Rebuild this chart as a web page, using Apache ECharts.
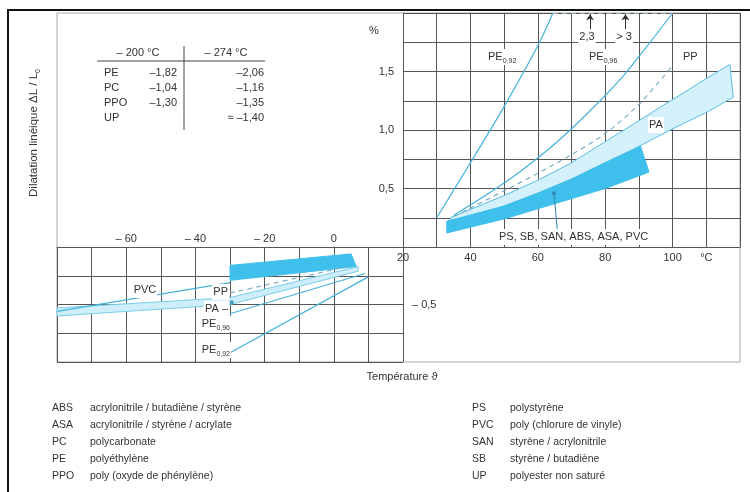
<!DOCTYPE html>
<html>
<head>
<meta charset="utf-8">
<script src="https://cdn.jsdelivr.net/npm/echarts@6/dist/echarts.min.js"></script>
<style>
html, body { margin: 0; padding: 0; background: #fff; }
#main { width: 750px; height: 492px; }
</style>
</head>
<body>
<div id="main"></div>
<script>
// upper part: temperature 20..120 °C, dilatation 0..2 %
var pe092Up = [[30, 0.25], [40, 0.72], [50, 1.2], [60, 1.72], [64.5, 2.0]];
var pe096Up = [[35, 0.27], [45, 0.45], [55, 0.65], [65, 0.88], [75, 1.15], [85, 1.45], [92, 1.7], [100, 2.0]];
var ppUp = [[35, 0.26], [50, 0.48], [60, 0.63], [70, 0.79], [80, 0.97], [90, 1.22], [100, 1.55]];
var paTopUp = [[34, 0.25], [50, 0.44], [60, 0.57], [70, 0.72], [80, 0.9], [90, 1.08], [100, 1.26], [110, 1.44], [117, 1.56]];
var paBottomUp = [[34, 0.2], [50, 0.35], [60, 0.46], [70, 0.58], [80, 0.72], [90, 0.86], [100, 1.01], [110, 1.15], [118, 1.28]];
var psTopUp = [[33, 0.22], [50, 0.35], [60, 0.46], [70, 0.58], [80, 0.72], [90.5, 0.86]];
var psBottomUp = [[33, 0.12], [50, 0.24], [65, 0.37], [80, 0.5], [93, 0.64]];

// lower part: temperature -80..20 °C, dilatation -1..0 %
var pe092Low = [[-30, -0.92], [10, -0.26]];
var pe096Low = [[-30, -0.58], [9, -0.23]];
var ppLow = [[-30, -0.40], [4, -0.17]];
var paTopLow = [[-80, -0.53], [-30, -0.44], [7, -0.17]];
var paBottomLow = [[-80, -0.6], [-30, -0.5], [7, -0.21]];
var pvcLow = [[-80, -0.56], [-30, -0.31]];
var psTopLow = [[-30, -0.16], [5, -0.06]];
var psBottomLow = [[-30, -0.29], [6.5, -0.17]];
var paPointLow = [[-29.5, -0.48]];

// table of values at very low temperatures
var tableHead = ['– 200 °C', '– 274 °C'];
var tableNames = ['PE', 'PC', 'PPO', 'UP'];
var tableAt200 = ['–1,82', '–1,04', '–1,30', ''];
var tableAt274 = ['–2,06', '–1,16', '–1,35', '≈ –1,40'];

// abbreviations
var abbrLeft = ['ABS', 'ASA', 'PC', 'PE', 'PPO'];
var nameLeft = ['acrylonitrile / butadiène / styrène', 'acrylonitrile / styrène / acrylate', 'polycarbonate', 'polyéthylène', 'poly (oxyde de phénylène)'];
var abbrRight = ['PS', 'PVC', 'SAN', 'SB', 'UP'];
var nameRight = ['polystyrène', 'poly (chlorure de vinyle)', 'styrène / acrylonitrile', 'styrène / butadiène', 'polyester non saturé'];

var FONT = '"Liberation Sans", Arial, sans-serif';
var TXT = '#333';
var GRIDC = '#555';
var LINEC = '#44b2da';

var dom = document.getElementById('main');
var myChart = echarts.init(dom);

function band(top, bottom, fill, stroke, gi) {
    return {
        type: 'custom',
        xAxisIndex: gi,
        yAxisIndex: gi,
        silent: true,
        z: 2,
        data: [top[0]],
        renderItem: function (params, api) {
            var pts = top.concat(bottom.slice().reverse()).map(function (p) {
                return api.coord(p);
            });
            return {
                type: 'polygon',
                shape: { points: pts },
                style: { fill: fill, stroke: stroke, lineWidth: 1 }
            };
        }
    };
}

function curve(data, gi, dashed, color) {
    return {
        type: 'line',
        xAxisIndex: gi,
        yAxisIndex: gi,
        data: data,
        symbol: 'none',
        smooth: 0.3,
        silent: true,
        z: 3,
        lineStyle: {
            color: color || LINEC,
            width: 1.2,
            type: dashed ? [5, 4] : 'solid'
        }
    };
}

function marker(gi, lines, style, symbol, size) {
    return {
        type: 'line',
        xAxisIndex: gi,
        yAxisIndex: gi,
        data: [],
        silent: true,
        markLine: {
            silent: true,
            animation: false,
            symbol: symbol,
            symbolSize: size,
            label: { show: false },
            lineStyle: style,
            data: lines
        }
    };
}

function fmtNum(v) {
    return v.toFixed(1).replace('.', ',');
}

var graphics = [
    { type: 'rect', shape: { x: 8, y: 10, width: 770, height: 500 }, style: { fill: 'none', stroke: '#111', lineWidth: 2 } },
    {
        type: 'text', x: 34, y: 133, rotation: Math.PI / 2,
        style: {
            text: '{a|Dilatation linéique ΔL / L}{s|0}',
            align: 'center', verticalAlign: 'middle',
            rich: {
                a: { fontSize: 11.5, fontFamily: FONT, fill: TXT, lineHeight: 16 },
                s: { fontSize: 7, fontFamily: FONT, fill: TXT, lineHeight: 8, verticalAlign: 'bottom' }
            }
        }
    },
    { type: 'text', x: 402, y: 377, style: { text: 'Température ϑ', font: '11px ' + FONT, fill: TXT, align: 'center', verticalAlign: 'middle' } },
    { type: 'text', x: 374, y: 31, style: { text: '%', font: '11px ' + FONT, fill: TXT, align: 'center', verticalAlign: 'middle' } },
    // table frame
    { type: 'line', shape: { x1: 97, y1: 61, x2: 265, y2: 61 }, style: { stroke: '#444', lineWidth: 1 } },
    { type: 'line', shape: { x1: 184, y1: 46, x2: 184, y2: 130 }, style: { stroke: '#444', lineWidth: 1 } },
    { type: 'text', x: 138, y: 53, style: { text: tableHead[0], font: '11px ' + FONT, fill: TXT, align: 'center', verticalAlign: 'middle' } },
    { type: 'text', x: 226, y: 53, style: { text: tableHead[1], font: '11px ' + FONT, fill: TXT, align: 'center', verticalAlign: 'middle' } }
];

tableNames.forEach(function (n, i) {
    var y = 73 + i * 15;
    graphics.push({ type: 'text', x: 104, y: y, style: { text: n, font: '11px ' + FONT, fill: TXT, verticalAlign: 'middle' } });
    graphics.push({ type: 'text', x: 177, y: y, style: { text: tableAt200[i], font: '11px ' + FONT, fill: TXT, align: 'right', verticalAlign: 'middle' } });
    graphics.push({ type: 'text', x: 264, y: y, style: { text: tableAt274[i], font: '11px ' + FONT, fill: TXT, align: 'right', verticalAlign: 'middle' } });
});

abbrLeft.forEach(function (a, i) {
    var y = 408 + i * 17;
    graphics.push({ type: 'text', x: 52, y: y, style: { text: a, font: '10.5px ' + FONT, fill: TXT, verticalAlign: 'middle' } });
    graphics.push({ type: 'text', x: 90, y: y, style: { text: nameLeft[i], font: '10.5px ' + FONT, fill: TXT, verticalAlign: 'middle' } });
    graphics.push({ type: 'text', x: 472, y: y, style: { text: abbrRight[i], font: '10.5px ' + FONT, fill: TXT, verticalAlign: 'middle' } });
    graphics.push({ type: 'text', x: 510, y: y, style: { text: nameRight[i], font: '10.5px ' + FONT, fill: TXT, verticalAlign: 'middle' } });
});

var subRich = {
    a: { fontSize: 11, fontFamily: FONT, fill: TXT, lineHeight: 16 },
    s: { fontSize: 7, fontFamily: FONT, fill: TXT, lineHeight: 8, verticalAlign: 'bottom' }
};

// curve labels
var curveLabels = [
    { x: 487, y: 57, t: '{a|PE}{s|0,92}', align: 'left' },
    { x: 588, y: 57, t: '{a|PE}{s|0,96}', align: 'left' },
    { x: 682, y: 57, t: '{a|PP}', align: 'left' },
    { x: 648, y: 125, t: '{a|PA}', align: 'left' },
    { x: 498, y: 237, t: '{a|PS, SB, SAN, ABS, ASA, PVC}', align: 'left' },
    { x: 587, y: 37, t: '{a|2,3}', align: 'center' },
    { x: 624, y: 37, t: '{a|> 3}', align: 'center' },
    { x: 145, y: 290, t: '{a|PVC}', align: 'center' },
    { x: 229, y: 292, t: '{a|PP}', align: 'right' },
    { x: 229, y: 309, t: '{a|PA –}', align: 'right' },
    { x: 231, y: 324, t: '{a|PE}{s|0,96}', align: 'right' },
    { x: 231, y: 350, t: '{a|PE}{s|0,92}', align: 'right' }
];
curveLabels.forEach(function (l) {
    graphics.push({
        type: 'text', x: l.x, y: l.y, z: 10,
        style: {
            text: l.t, rich: subRich, align: l.align, verticalAlign: 'middle',
            backgroundColor: '#fff', padding: [0, 1, 0, 1]
        }
    });
});

var gridLine = { show: true, lineStyle: { color: GRIDC, width: 1 } };

option = {
    backgroundColor: '#fff',
    animation: false,
    grid: [
        { left: 403, right: 10, top: 13, bottom: 245 },
        { left: 57, right: 347, top: 247, bottom: 130 },
        { left: 57, right: 10, top: 13, bottom: 130, show: true, borderColor: '#aaa', borderWidth: 1, backgroundColor: 'transparent', z: 0 }
    ],
    xAxis: [
        {
            gridIndex: 0, type: 'value', min: 20, max: 120, interval: 10,
            axisLine: { show: true, lineStyle: { color: GRIDC } }, axisTick: { show: false },
            splitLine: gridLine,
            axisLabel: {
                margin: 5, showMaxLabel: true, showMinLabel: true,
                color: TXT, fontSize: 11, fontFamily: FONT,
                formatter: function (v) {
                    if (v === 110) return '°C';
                    return (v % 20 === 0 && v < 120) ? String(v) : '';
                }
            }
        },
        {
            gridIndex: 1, type: 'value', min: -80, max: 20, interval: 10, position: 'top',
            axisLine: { show: true, lineStyle: { color: GRIDC } }, axisTick: { show: false },
            splitLine: gridLine,
            axisLabel: {
                margin: 3, color: TXT, fontSize: 11, fontFamily: FONT,
                formatter: function (v) {
                    if (v === 0) return '0';
                    return (v < 0 && v > -80 && v % 20 === 0) ? '– ' + (-v) : '';
                }
            }
        },
        { gridIndex: 2, type: 'value', min: 0, max: 1, show: false }
    ],
    yAxis: [
        {
            gridIndex: 0, type: 'value', min: 0, max: 2, interval: 0.25,
            axisLine: { show: true, lineStyle: { color: GRIDC } }, axisTick: { show: false },
            splitLine: gridLine,
            axisLabel: {
                margin: 9, color: TXT, fontSize: 11, fontFamily: FONT,
                formatter: function (v) {
                    return (v > 0 && v < 2 && Math.abs(v * 2 - Math.round(v * 2)) < 1e-9) ? fmtNum(v) : '';
                }
            }
        },
        {
            gridIndex: 1, type: 'value', min: -1, max: 0, interval: 0.25, position: 'right',
            axisLine: { show: true, lineStyle: { color: GRIDC } }, axisTick: { show: false },
            splitLine: gridLine,
            axisLabel: {
                margin: 9, color: TXT, fontSize: 11, fontFamily: FONT,
                formatter: function (v) {
                    return Math.abs(v + 0.5) < 1e-9 ? '– 0,5' : '';
                }
            }
        },
        { gridIndex: 2, type: 'value', min: 0, max: 1, show: false }
    ],
    graphic: graphics,
    series: [
        band(paTopUp, paBottomUp, '#d3f0fb', '#56bfe3', 0),
        band(psTopUp, psBottomUp, '#3fbfeb', '#3fbfeb', 0),
        curve(pe092Up, 0),
        curve(pe096Up, 0),
        curve(ppUp, 0, true, '#7fb0c4'),
        band(paTopLow, paBottomLow, '#cdeefa', '#7ccde9', 1),
        band(psTopLow, psBottomLow, '#3fbfeb', '#3fbfeb', 1),
        curve(pvcLow, 1),
        curve(pe092Low, 1),
        curve(pe096Low, 1),
        curve(ppLow, 1, true, '#7fb0c4'),
        {
            type: 'scatter', xAxisIndex: 1, yAxisIndex: 1, data: paPointLow,
            symbolSize: 4, itemStyle: { color: '#2b86b0' }, silent: true, z: 5
        },
        marker(0, [[{ coord: [64.5, 2] }, { coord: [100, 2] }]],
            { color: '#8aa8b8', type: [5, 4], width: 1 }, ['none', 'none'], 0),
        marker(0, [[{ coord: [75.5, 1.84] }, { coord: [75.5, 1.99] }], [{ coord: [86, 1.84] }, { coord: [86, 1.99] }]],
            { color: '#333', type: 'solid', width: 1 }, ['none', 'arrow'], 6),
        marker(0, [[{ coord: [65.8, 0.14] }, { coord: [64.8, 0.46] }]],
            { color: '#2b86b0', type: 'solid', width: 1 }, ['none', 'circle'], 4)
    ]
};

if (option && typeof option === 'object') {
    myChart.setOption(option, true);
}
</script>
</body>
</html>
